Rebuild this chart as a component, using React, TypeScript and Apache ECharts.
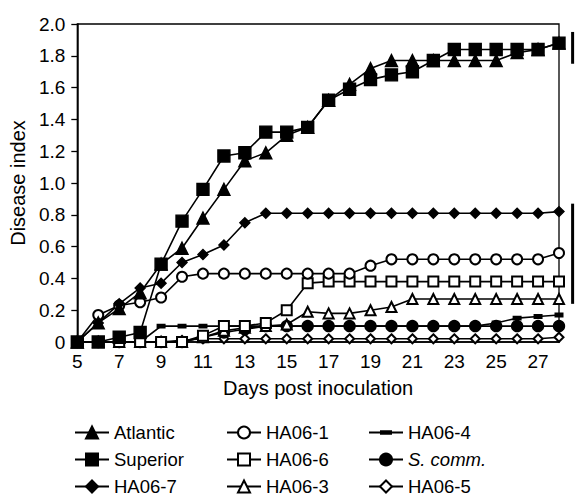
import React, { useEffect, useRef } from "react";
import * as echarts from "echarts";

const days = [5, 6, 7, 8, 9, 10, 11, 12, 13, 14, 15, 16, 17, 18, 19, 20, 21, 22, 23, 24, 25, 26, 27, 28];
const atlantic = [0, 0.12, 0.21, 0.31, 0.49, 0.59, 0.78, 0.96, 1.14, 1.19, 1.3, 1.35, 1.52, 1.62, 1.72, 1.77, 1.77, 1.77, 1.77, 1.77, 1.77, 1.82, 1.84, 1.88];
const superior = [0, 0, 0.03, 0.06, 0.49, 0.76, 0.96, 1.17, 1.19, 1.32, 1.32, 1.35, 1.52, 1.59, 1.65, 1.68, 1.7, 1.77, 1.84, 1.84, 1.84, 1.84, 1.84, 1.88];
const ha067 = [0, 0.12, 0.24, 0.34, 0.37, 0.5, 0.55, 0.61, 0.75, 0.81, 0.81, 0.81, 0.81, 0.81, 0.81, 0.81, 0.81, 0.81, 0.81, 0.81, 0.81, 0.81, 0.81, 0.82];
const ha061 = [0, 0.17, 0.23, 0.25, 0.28, 0.41, 0.43, 0.43, 0.43, 0.43, 0.43, 0.43, 0.43, 0.43, 0.48, 0.52, 0.52, 0.52, 0.52, 0.52, 0.52, 0.52, 0.52, 0.56];
const ha066 = [0, 0, 0, 0, 0, 0, 0.04, 0.1, 0.1, 0.12, 0.2, 0.37, 0.38, 0.38, 0.38, 0.38, 0.38, 0.38, 0.38, 0.38, 0.38, 0.38, 0.38, 0.38];
const ha063 = [0, 0, 0, 0, 0, 0, 0.03, 0.07, 0.09, 0.1, 0.11, 0.19, 0.18, 0.18, 0.2, 0.22, 0.27, 0.27, 0.27, 0.27, 0.27, 0.27, 0.27, 0.27];
const ha064 = [0, 0, 0, 0, 0.1, 0.1, 0.1, 0.1, 0.1, 0.1, 0.1, 0.1, 0.1, 0.1, 0.1, 0.1, 0.1, 0.1, 0.1, 0.1, 0.12, 0.15, 0.16, 0.17];
const scomm = [0, 0, 0, 0, 0, 0, 0.03, 0.06, 0.08, 0.1, 0.1, 0.1, 0.1, 0.1, 0.1, 0.1, 0.1, 0.1, 0.1, 0.1, 0.1, 0.1, 0.1, 0.1];
const ha065 = [0, 0, 0, 0, 0, 0.01, 0.02, 0.02, 0.02, 0.02, 0.02, 0.02, 0.02, 0.02, 0.02, 0.02, 0.02, 0.02, 0.02, 0.02, 0.02, 0.02, 0.02, 0.03];

// LSD-style bars drawn right of the plot: [low, high]
const barDay = 28.65;
const lsdBars = [
  [1.75, 1.95],
  [0.24, 0.87],
];

const legendCols = [
  ["Atlantic", "Superior", "HA06-7"],
  ["HA06-1", "HA06-6", "HA06-3"],
  ["HA06-4", "S. comm.", "HA06-5"],
];

const FONT = "Liberation Sans, Arial, sans-serif";

// flat bar marker inside a square box (zero-area padding points keep the box square)
const flatRectSymbol = "path://M0,0L0.01,0L0,0Z M0,3.1L10,3.1L10,6.9L0,6.9Z M0,10L0.01,10L0,10Z";

export default function App() {
  const ref = useRef<HTMLDivElement>(null);
  useEffect(() => {
    if (!ref.current) return;
    const chart = echarts.init(ref.current, undefined, { renderer: "svg" });

    const mk = (name: string, values: number[], symbol: string, size: any, borderWidth = 1.4) => ({
      name,
      type: "line",
      data: days.map((d, i) => [d, values[i]]),
      symbol,
      symbolSize: size,
      showSymbol: true,
      lineStyle: { color: "#000", width: 1.6 },
      itemStyle: { color: "#000", borderColor: "#000", borderWidth },
      emphasis: { disabled: true },
    });

    const series = [
      mk("HA06-5", ha065, "emptyDiamond", 9),
      mk("S. comm.", scomm, "circle", 11),
      mk("HA06-4", ha064, flatRectSymbol, [9, 13], 0),
      mk("HA06-3", ha063, "emptyTriangle", 10),
      mk("HA06-6", ha066, "emptyRect", 10),
      mk("HA06-1", ha061, "emptyCircle", 10),
      mk("HA06-7", ha067, "diamond", 10),
      mk("Superior", superior, "rect", 12),
      mk("Atlantic", atlantic, "triangle", 12),
    ];

    const legendX = [74, 226, 368];
    const legends = legendCols.map((col, ci) => ({
      orient: "vertical",
      left: legendX[ci],
      top: 423,
      padding: 0,
      width: 200,
      height: 110,
      itemWidth: 34,
      itemHeight: 15,
      itemGap: 8,
      selectedMode: false,
      data: col,
      formatter: (n: string) => (n === "S. comm." ? "{i|S. comm.}" : n),
      textStyle: {
        color: "#000",
        fontFamily: FONT,
        fontSize: 18.5,
        rich: { i: { fontStyle: "italic", fontFamily: FONT, fontSize: 18.5, color: "#000" } },
      },
    }));

    chart.setOption({
      animation: false,
      backgroundColor: "#fff",
      grid: {
        left: 76,
        right: 25,
        top: 24,
        bottom: 156,
        show: true,
        borderColor: "#000",
        borderWidth: 1.3,
        backgroundColor: "transparent",
      },
      legend: legends,
      xAxis: {
        type: "value",
        min: 5,
        max: 28,
        interval: 1,
        name: "Days post inoculation",
        nameLocation: "middle",
        nameGap: 36,
        nameTextStyle: { color: "#000", fontFamily: FONT, fontSize: 20 },
        axisLine: { show: true, lineStyle: { color: "#000", width: 1.5 } },
        axisTick: { show: false },
        splitLine: { show: false },
        axisLabel: {
          color: "#000",
          fontFamily: FONT,
          fontSize: 19,
          margin: 10,
          formatter: (v: number) => (v % 2 === 1 ? String(v) : ""),
        },
      },
      yAxis: {
        type: "value",
        min: 0,
        max: 2,
        interval: 0.2,
        name: "Disease index",
        nameLocation: "middle",
        nameGap: 47,
        nameTextStyle: { color: "#000", fontFamily: FONT, fontSize: 20 },
        axisLine: { show: true, lineStyle: { color: "#000", width: 1.5 } },
        axisTick: { show: true, inside: false, length: 6, lineStyle: { color: "#000", width: 1.3 } },
        splitLine: { show: false },
        axisLabel: {
          color: "#000",
          fontFamily: FONT,
          fontSize: 19,
          margin: 12,
          formatter: (v: number) => (Math.abs(v) < 1e-9 ? "0" : v.toFixed(1)),
        },
      },
      series,
    });

    const graphics = lsdBars.map(([lo, hi]) => {
      const p1 = chart.convertToPixel({ xAxisIndex: 0, yAxisIndex: 0 }, [barDay, lo]) as number[];
      const p2 = chart.convertToPixel({ xAxisIndex: 0, yAxisIndex: 0 }, [barDay, hi]) as number[];
      return {
        type: "line",
        shape: { x1: p1[0], y1: p1[1], x2: p2[0], y2: p2[1] },
        style: { stroke: "#000", lineWidth: 3 },
      };
    });
    chart.setOption({ graphic: graphics });

    return () => chart.dispose();
  }, []);

  return (
    <div
      ref={ref}
      style={{ position: "fixed", left: 0, top: 0, width: 584, height: 498, background: "#fff" }}
    />
  );
}
